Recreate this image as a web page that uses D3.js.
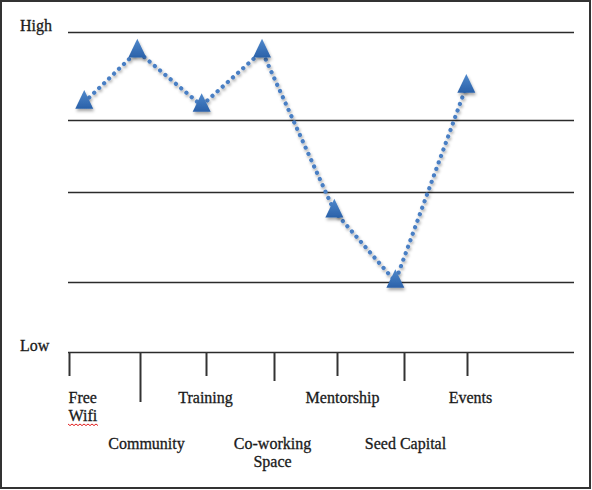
<!DOCTYPE html>
<html>
<head>
<meta charset="utf-8">
<script src="https://cdn.jsdelivr.net/npm/d3@7"></script>
<style>
  body { margin: 0; background: #fff; }
  text { font-family: "Liberation Serif", "Times New Roman", serif; font-size: 16px; fill: #1a1a1a; stroke: #1a1a1a; stroke-width: 0.3; }
</style>
</head>
<body>
<div id="chart"></div>
<script>
// categories along the bottom (\n = line break in the label)
const categories = ['Free\nWifi', 'Community', 'Training', 'Co-working\nSpace', 'Mentorship', 'Seed Capital', 'Events'];
// where each tick sits along the category axis (hand drawn, so not quite even)
const tickPos = [0, 1.07, 2.07, 3.09, 4.04, 5.05, 6];
// where each marker sits along the category axis
const pointPos = [0.23, 1.03, 2.0, 2.91, 4.0, 4.92, 5.99];
// rating from Low (0) to High (100)
const values = [78, 94, 77, 94, 44, 22, 83];
// horizontal rule levels
const gridLevels = [0, 22, 50, 72.5, 100];
const levelLabels = [{ v: 100, t: 'High' }, { v: 0, t: 'Low' }];

const width = 592, height = 490;
const margin = ({top: 32, right: 18, bottom: 138, left: 69});

const x = d3.scaleLinear()
  .domain([0, categories.length - 1])
  .range([margin.left, 467]);

const y = d3.scaleLinear()
  .domain([0, 100])
  .range([height - margin.bottom, margin.top]);

const svg = d3.create('svg')
  .attr('width', width)
  .attr('height', height);

// attach early so text can be measured
document.getElementById('chart').appendChild(svg.node());

const defs = svg.append('defs');

const shadow = defs.append('filter')
  .attr('id', 'shadow')
  .attr('x', '-50%').attr('y', '-50%')
  .attr('width', '200%').attr('height', '200%');
shadow.append('feDropShadow')
  .attr('dx', 1).attr('dy', 2)
  .attr('stdDeviation', 1.4)
  .attr('flood-color', '#000')
  .attr('flood-opacity', 0.35);

const grad = defs.append('linearGradient')
  .attr('id', 'triFill')
  .attr('x1', 0).attr('y1', 0).attr('x2', 0).attr('y2', 1);
grad.append('stop').attr('offset', '0%').attr('stop-color', '#5089cc');
grad.append('stop').attr('offset', '100%').attr('stop-color', '#2a61a9');

// outer frame
svg.append('rect')
  .attr('x', 1).attr('y', 1)
  .attr('width', width - 3).attr('height', height - 3)
  .attr('fill', 'none')
  .attr('stroke', '#333')
  .attr('stroke-width', 2);

const g = svg.append('g');

// horizontal rules
g.append('g')
  .selectAll('line')
  .data(gridLevels)
  .join('line')
    .attr('x1', x.range()[0] - 1)
    .attr('x2', width - 18)
    .attr('y1', d => Math.round(y(d)) + 0.5)
    .attr('y2', d => Math.round(y(d)) + 0.5)
    .attr('stroke', '#2b2b2b')
    .attr('stroke-width', 1.5);

// High / Low labels
g.append('g')
  .selectAll('text')
  .data(levelLabels)
  .join('text')
    .attr('x', 20)
    .attr('y', d => y(d.v) - 1)
    .text(d => d.t);

// category ticks hanging below the baseline
const tickLen = i => i === 1 ? 50 : (i % 2 ? 29 : 24);
const labelShift = [-1, 6, -1, -2, 5, 1, 3]; // small nudges, as in the drawing
const ticks = g.append('g')
  .selectAll('g')
  .data(categories)
  .join('g')
    .attr('transform', (d, i) => `translate(${Math.round(x(tickPos[i])) + 0.5},${y(0)})`);

ticks.append('line')
  .attr('y2', (d, i) => tickLen(i))
  .attr('stroke', '#333')
  .attr('stroke-width', 2);

// labels alternate between two rows
ticks.append('text')
  .attr('text-anchor', (d, i) => i === 0 ? 'start' : 'middle')
  .attr('x', (d, i) => labelShift[i])
  .attr('y', (d, i) => i % 2 ? 97 : 51)
  .selectAll('tspan')
  .data(d => d.split('\n'))
  .join('tspan')
    .attr('x', function () { return this.parentNode.getAttribute('x'); })
    .attr('dy', (d, j) => j ? 18 : 0)
    .text(d => d);

// red spell-check squiggle under "Wifi"
const wifi = ticks.filter((d, i) => i === 0).select('tspan:nth-child(2)').node().getBBox();
const sq = d3.path();
const sqY = y(0) + 72;
const sx0 = x(tickPos[0]) + wifi.x, sx1 = sx0 + wifi.width;
sq.moveTo(sx0, sqY);
for (let k = 0, px = sx0; px < sx1; k++) {
  px += 2;
  sq.lineTo(px, sqY + (k % 2 ? 0 : 1.6));
}
g.append('path')
  .attr('d', sq.toString())
  .attr('fill', 'none')
  .attr('stroke', '#e02020')
  .attr('stroke-width', 1);

// dotted line
const line = d3.line()
  .x((d, i) => x(pointPos[i]))
  .y(d => y(d));

g.append('path')
  .attr('d', line(values))
  .attr('fill', 'none')
  .attr('stroke', '#4a7fc4')
  .attr('stroke-width', 4.2)
  .attr('stroke-linecap', 'round')
  .attr('stroke-dasharray', '0.1 6.8')
  .attr('filter', 'url(#shadow)');

// triangle markers
const tri = d3.symbol().type(d3.symbolTriangle).size(140);
g.append('g')
  .selectAll('path')
  .data(values)
  .join('path')
    .attr('d', tri)
    .attr('transform', (d, i) => `translate(${x(pointPos[i])},${y(d)}) scale(1,1.2)`)
    .attr('fill', 'url(#triFill)')
    .attr('filter', 'url(#shadow)');
</script>
</body>
</html>
